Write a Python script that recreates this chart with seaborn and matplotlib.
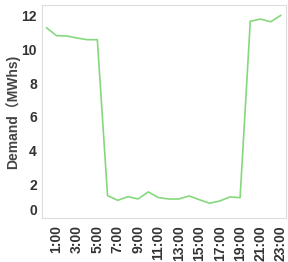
import numpy as np
import pandas as pd
import matplotlib
matplotlib.use("Agg")
import matplotlib.pyplot as plt
import seaborn as sns

# hourly demand
hours = [f"{h}:00" for h in range(24)]
demand = [11.28, 10.81, 10.79, 10.67, 10.57, 10.57,
          1.34, 1.06, 1.28, 1.14, 1.56, 1.22,
          1.14, 1.14, 1.32, 1.10, 0.89, 1.02,
          1.26, 1.22, 11.66, 11.79, 11.63, 12.01]
y_ticks = [0, 2, 4, 6, 8, 10, 12]

df = pd.DataFrame({"hour": range(24), "demand": demand})

sns.set_style("white")
plt.rcParams['font.family'] = ['Liberation Sans', 'Noto Sans CJK SC', 'DejaVu Sans']

fig = plt.figure(figsize=(2.88, 2.62), dpi=100)
ax = fig.add_axes([0.145, 0.167, 0.848, 0.815])

sns.lineplot(data=df, x="hour", y="demand", color="#85d97c", linewidth=1.2, ax=ax)

ax.set_xlim(-0.45, 23.5)
ax.set_ylim(0, 12.64)
ax.set_yticks(y_ticks)
ax.set_yticklabels([str(v) for v in y_ticks])
ax.set_xticks(range(1, 24, 2))
ax.set_xticklabels(hours[1::2], rotation=90)

for lbl in ax.get_yticklabels() + ax.get_xticklabels():
    lbl.set_fontweight("bold")
    lbl.set_fontsize(10)
    lbl.set_color("#333333")

ax.tick_params(axis="y", length=0, pad=3.5)
ax.tick_params(axis="x", length=3, width=0.6, color="#cccccc", pad=2)

# bottom label sits flush above the axis
ax.get_yticklabels()[0].set_va("bottom")

ax.set_xlabel("")
ax.set_ylabel("Demand（MWhs)", fontsize=10, fontweight="bold", color="#444444")
ax.yaxis.set_label_coords(-0.088, 0.5)

for s in ax.spines.values():
    s.set_color("#dddddd")
    s.set_linewidth(0.8)

fig.savefig("out.png", dpi=100)
